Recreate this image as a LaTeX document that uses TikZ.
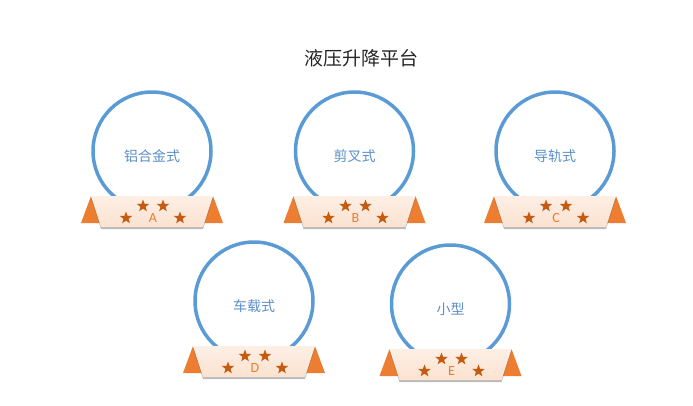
\documentclass[tikz,border=0pt]{standalone}
\usepackage{fontspec}
\newfontfamily\cjk{Noto Sans CJK SC}
\newfontfamily\latn{Carlito}
\usetikzlibrary{shapes.geometric,shadows}
\definecolor{ringblue}{HTML}{5B9BD5}
\definecolor{txtblue}{HTML}{5A8EC6}
\definecolor{triorange}{HTML}{ED7D31}
\definecolor{stardark}{HTML}{C55A11}
\definecolor{peach}{HTML}{FBE2D0}
\definecolor{peachtop}{HTML}{FDEFE5}
\tikzset{
  ring/.style={circle, draw=ringblue, line width=3.5pt, minimum size=118pt, inner sep=0pt},
  ringtext/.style={font=\cjk\fontsize{14}{16}\selectfont, text=txtblue, inner sep=0pt},
  titletext/.style={font=\cjk\fontsize{19}{21}\selectfont, text=black!85, inner sep=0pt},
  tri/.style={fill=triorange},
  band/.style={top color=peachtop, bottom color=peach, draw=none,
    drop shadow={shadow xshift=0pt, shadow yshift=-2pt, opacity=0.45, fill=black!60}},
  staricon/.style={star, star points=5, star point ratio=2.4, minimum size=13pt, inner sep=0pt, fill=stardark},
  lettertext/.style={font=\latn\fontsize{14}{14}\selectfont, text=triorange, inner sep=0pt}
}
\begin{document}
\begin{tikzpicture}[x=1pt,y=-1pt]
\useasboundingbox (0,0) rectangle (693,405);
\node[titletext] (title) at (361,58) {液压升降平台};
\foreach \cx/\cy/\txt/\lt/\nm in {152/151/铝合金式/A/a, 354.5/151/剪叉式/B/b, 555/151/导轨式/C/c, 254/301/车载式/D/d, 450.5/304/小型/E/e}{
  \begin{scope}[shift={(\cx,\cy)}]
    \node[ring] (ring\nm) at (0,0) {};
    \node[ringtext] (txt\nm) at (0,5) {\txt};
    \fill[tri] (-61,45) -- (-51,72) -- (-71,72) -- cycle;
    \fill[tri] (61,45) -- (71,72) -- (51,72) -- cycle;
    \path[band] (-61,45) -- (61,45) -- (51,76) -- (-51,76) -- cycle;
    \node[staricon] (s1\nm) at (-9,55) {};
    \node[staricon] (s2\nm) at (11,55) {};
    \node[staricon] (s3\nm) at (-26,67) {};
    \node[staricon] (s4\nm) at (28,67) {};
    \node[lettertext] (let\nm) at (1,67) {\lt};
  \end{scope}
}
\end{tikzpicture}
\end{document}
